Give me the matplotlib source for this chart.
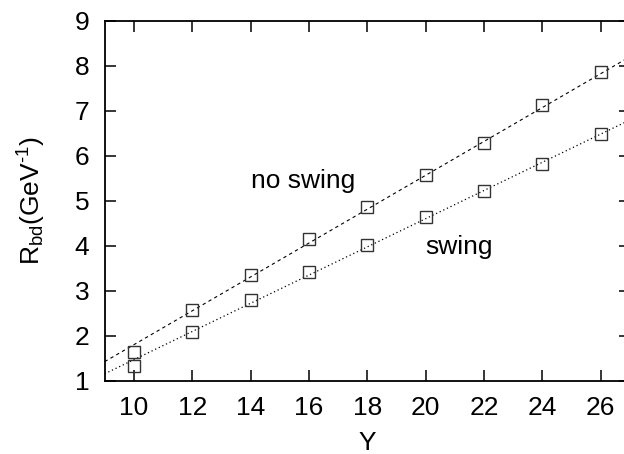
import matplotlib
matplotlib.use("Agg")
import matplotlib.pyplot as plt
import numpy as np

plt.rcParams['font.family'] = ['Liberation Sans', 'DejaVu Sans']
plt.rcParams['mathtext.fontset'] = 'custom'
plt.rcParams['mathtext.rm'] = 'Liberation Sans'
plt.rcParams['mathtext.it'] = 'Liberation Sans:italic'

# data
Y = [10, 12, 14, 16, 18, 20, 22, 24, 26]
r_no_swing = [1.64, 2.58, 3.36, 4.16, 4.87, 5.58, 6.28, 7.13, 7.85]
r_swing = [1.34, 2.08, 2.80, 3.43, 4.01, 4.64, 5.21, 5.82, 6.49]

# straight-line fits: (intercept, slope)
fit_no_swing = (-1.954, 0.376)
fit_swing = (-1.657, 0.313)

fig = plt.figure(figsize=(6.24, 4.54), dpi=100)
ax = fig.add_axes([0.1678, 0.1608, 0.8414, 0.7936])

xx = np.array([9, 27])
ax.plot(xx, fit_no_swing[0] + fit_no_swing[1] * xx, color='black',
        lw=0.8, dashes=(3, 3))
ax.plot(xx, fit_swing[0] + fit_swing[1] * xx, color='black',
        lw=0.9, dashes=(1, 2.2))

for vals in (r_no_swing, r_swing):
    ax.plot(Y, vals, ls='none', marker='s', ms=8.6, mfc='none',
            mec='#333333', mew=1.0)

ax.text(14.0, 5.44, 'no swing', fontsize=19, va='center', ha='left')
ax.text(20.0, 3.98, 'swing', fontsize=19, va='center', ha='left')

ax.set_xlim(9, 27)
ax.set_ylim(1, 9)
ax.set_xticks(range(10, 27, 2))
ax.set_yticks(range(1, 10))
ax.tick_params(direction='in', length=8, width=1.1, top=True, right=True,
               labelsize=19, pad=11)
for s in ax.spines.values():
    s.set_linewidth(1.3)

ax.set_xlabel('Y', fontsize=19, labelpad=8)
ax.set_ylabel('R$_{\\mathrm{bd}}$(GeV$^{\\mathrm{\u2010}1}$)', fontsize=19,
              labelpad=19)

fig.savefig('out.png', dpi=100)
